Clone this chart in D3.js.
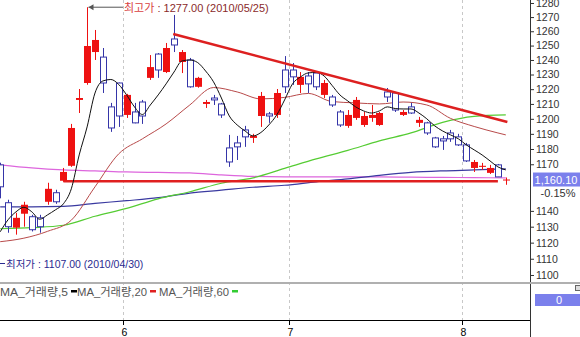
<!DOCTYPE html>
<html><head><meta charset="utf-8">
<script src="https://cdn.jsdelivr.net/npm/d3@7"></script>
<style>
body{margin:0;background:#fff}
svg{display:block;font-family:"Liberation Sans",Arial,"Noto Sans CJK KR",sans-serif}
</style>
</head><body>
<svg id="c" width="580" height="337"></svg>
<script>
// ---- data (USD/KRW daily candles, index -1 .. 63) ----
const firstIdx = -1;
const open  = [1169.6,1145.2,1129.4,1138.2,1136.3,1135.6,1145.8,1151.6,1159.3,1169.0,1212.7,1224.2,1245.5,1242.0,1208.0,1224.2,1202.6,1204.6,1211.3,1227.7,1244.1,1231.7,1254.6,1238.6,1240.0,1221.6,1210.0,1214.0,1210.0,1180.7,1184.0,1192.6,1187.3,1201.9,1203.3,1202.6,1233.1,1233.1,1222.9,1229.0,1231.0,1216.1,1214.7,1204.6,1195.3,1200.6,1195.9,1200.6,1195.9,1218.1,1217.4,1202.6,1208.0,1197.3,1197.3,1187.3,1186.7,1190.6,1188.0,1182.7,1167.6,1168.3,1164.4,1169.6,1159.5];
const high  = [1171.0,1147.1,1138.8,1145.8,1137.5,1137.5,1158.0,1153.5,1167.6,1196.6,1220.1,1277.0,1260.9,1248.3,1210.7,1224.5,1216.8,1210.7,1212.7,1243.4,1244.8,1251.8,1271.5,1246.9,1241.4,1228.4,1212.7,1216.1,1210.7,1189.3,1188.6,1195.3,1190.0,1218.1,1204.6,1220.1,1242.7,1237.9,1231.7,1231.7,1231.7,1226.3,1216.1,1205.9,1205.9,1214.7,1204.6,1209.3,1204.6,1220.8,1218.1,1205.9,1210.7,1201.3,1198.0,1188.0,1188.6,1192.6,1190.0,1184.0,1172.8,1170.9,1169.6,1170.2,1161.4];
const low   = [1148.0,1126.2,1125.0,1130.0,1127.0,1126.2,1143.9,1144.5,1158.6,1168.3,1203.9,1223.0,1240.0,1217.4,1191.3,1194.6,1200.6,1197.0,1196.6,1226.3,1227.7,1231.0,1245.5,1231.0,1221.0,1221.0,1207.3,1209.3,1200.6,1168.3,1172.8,1181.4,1184.0,1194.6,1197.3,1200.6,1217.4,1222.9,1217.4,1217.4,1219.4,1214.0,1208.0,1194.6,1194.0,1199.3,1194.6,1198.0,1195.3,1211.3,1204.6,1201.9,1203.3,1194.6,1189.3,1180.7,1179.4,1184.7,1182.0,1171.5,1165.0,1166.3,1163.7,1161.8,1156.7];
const close = [1155.4,1130.0,1135.6,1143.9,1128.1,1130.0,1154.1,1145.8,1165.0,1193.9,1214.0,1249.7,1253.9,1224.2,1193.9,1201.9,1216.1,1197.3,1201.9,1235.1,1233.1,1248.3,1250.4,1245.5,1221.6,1227.7,1211.3,1212.7,1202.6,1171.5,1181.4,1188.0,1188.6,1215.4,1201.9,1217.4,1221.6,1228.4,1228.4,1223.6,1221.6,1224.2,1209.3,1195.9,1202.6,1212.7,1201.9,1202.6,1203.9,1214.7,1205.9,1204.6,1203.9,1199.3,1190.6,1181.4,1185.3,1186.7,1182.7,1172.2,1171.5,1169.0,1167.6,1161.8,1160.1];

// moving averages
const ma5 = [1126.8,1134.4,1139.4,1142.3,1139.4,1134.7,1137.5,1140.7,1144.5,1154.1,1176.1,1194.6,1217.4,1225.6,1226.6,1223.2,1216.1,1208.0,1202.9,1209.3,1216.1,1223.6,1231.7,1239.3,1240.0,1238.2,1232.4,1225.0,1214.0,1201.9,1195.9,1191.9,1188.6,1190.9,1195.9,1202.6,1212.7,1223.6,1228.3,1231.1,1231.4,1229.0,1222.6,1216.1,1212.0,1208.0,1205.3,1203.9,1205.3,1208.0,1206.9,1206.6,1206.6,1203.9,1200.0,1195.3,1191.9,1189.3,1186.7,1182.7,1179.4,1176.1,1172.2,1168.3,1166.3];
const ma20Idx = [-1,2,5,8,11,14,17,20,23,26,29,32,35,38,41,44,47,50,53,56,59,62,63];
const ma20 = [1120.6,1122.8,1127.1,1134.1,1155.4,1176.8,1186.7,1196.6,1209.3,1221.1,1218.1,1213.4,1214.4,1217.1,1211.6,1210.7,1210.0,1211.3,1209.3,1200.3,1194.9,1190.6,1189.3];
const slowIdx = [-1,3,7,11,15,19,23,27,31,35,39,43,47,51,55,59,63];
const ma60  = [1128.7,1129.4,1130.9,1136.6,1141.6,1147.7,1152.2,1157.7,1161.2,1167.3,1173.5,1179.1,1185.3,1190.6,1197.6,1201.6,1202.6];
const ma120 = [1142.6,1142.6,1142.9,1144.8,1146.5,1148.4,1151.3,1153.2,1155.1,1156.4,1158.6,1160.5,1162.8,1164.7,1165.7,1166.3,1167.0];
const maPink= [1169.6,1167.6,1166.3,1165.7,1165.0,1164.7,1164.4,1163.1,1162.1,1161.8,1161.8,1161.8,1161.8,1161.6,1161.5,1161.3,1161.2];

// drawn lines
const trendIdx = [20.9, 63.2];
const trendVal = [1258.1, 1197.9];
const supportIdx = [7, 62];
const supportVal = 1159.0;

const yTicks = [1280,1270,1260,1250,1240,1230,1220,1210,1200,1190,1180,1170,1140,1130,1120,1110,1100];
const monthLabels = ["6","7","8"];
const monthStartIdx = [15,36,58];
const lastPrice = "1,160.10";
const lastChange = "-0.15%";
const highText = ["최고가", " : 1277.00 (2010/05/25)"];
const highIdx = 10, highVal = 1277.0;
const lowText = "최저가 : 1107.00 (2010/04/30)";
const legendItems = ["MA_거래량,5","MA_거래량,20","MA_거래량,60"];
const legendColors = ["#000000","#e02020","#33cc33"];

// ---- drawing ----
const svg = d3.select("#c");
const W = 580, H = 337, plotR = 530, priceB = 283;
const x = d3.scaleLinear().domain([0,63]).range([8.1,505.8]);
const y = d3.scaleLog().domain([1095.1,1282.14]).range([priceB,0]);

svg.append("defs").append("clipPath").attr("id","clip")
  .append("rect").attr("x",0).attr("y",0).attr("width",plotR).attr("height",priceB);

// month gridlines
const gx = d => Math.round(x(d-0.5))+0.5;
svg.append("g").selectAll("line").data(monthStartIdx).join("line")
  .attr("x1",gx).attr("x2",gx).attr("y1",0).attr("y2",320)
  .attr("stroke","#c8c8c8").attr("stroke-dasharray","3,3");

const P = svg.append("g").attr("clip-path","url(#clip)");
const idxOf = i => i + firstIdx;

// slow lines
const lineFrom = (idxArr, vals) => d3.line().curve(d3.curveMonotoneX)
  .x((d,i)=>x(idxArr[i])).y(d=>y(d))(vals);
P.append("path").attr("d",lineFrom(slowIdx,maPink)).attr("fill","none").attr("stroke","#dd66dd").attr("stroke-width",1.2);
P.append("path").attr("d",lineFrom(slowIdx,ma120)).attr("fill","none").attr("stroke","#3a3aa0").attr("stroke-width",1.2);
P.append("path").attr("d",lineFrom(slowIdx,ma60)).attr("fill","none").attr("stroke","#55cc33").attr("stroke-width",1.2);
P.append("path").attr("d",lineFrom(ma20Idx,ma20)).attr("fill","none").attr("stroke","#b84a4a").attr("stroke-width",1);

// support line
P.append("line").attr("x1",x(supportIdx[0])).attr("x2",x(supportIdx[1]))
  .attr("y1",y(supportVal)).attr("y2",y(supportVal))
  .attr("stroke","#e02020").attr("stroke-width",2.5);

// candles
const n = open.length;
const cw = 6;
const cg = P.append("g");
for (let k=0;k<n;k++){
  const i = idxOf(k);
  const up = close[k] >= open[k];
  const col = up ? "#ee1111" : "#3535a8";
  const cx = Math.round(x(i))+0.5;
  cg.append("line").attr("x1",cx).attr("x2",cx).attr("y1",y(high[k])).attr("y2",y(low[k]))
    .attr("stroke",col).attr("stroke-width",1);
  const top = y(Math.max(open[k],close[k])), bot = y(Math.min(open[k],close[k]));
  const h = Math.max(1, bot-top);
  if (up) {
    cg.append("rect").attr("x",cx-3.5).attr("y",top).attr("width",cw+1).attr("height",h).attr("fill",col);
  } else {
    cg.append("rect").attr("x",cx-3).attr("y",top).attr("width",cw).attr("height",h)
      .attr("fill","#fff").attr("stroke",col).attr("stroke-width",1);
  }
}

// MA5
P.append("path").attr("d",d3.line().curve(d3.curveMonotoneX).x((d,k)=>x(idxOf(k))).y(d=>y(d))(ma5))
  .attr("fill","none").attr("stroke","#111").attr("stroke-width",1);

// trendline
P.append("line").attr("x1",x(trendIdx[0])).attr("y1",y(trendVal[0]))
  .attr("x2",x(trendIdx[1])).attr("y2",y(trendVal[1]))
  .attr("stroke","#dd2020").attr("stroke-width",2.6);

// high annotation
const hx = Math.round(x(highIdx))+0.5, hy = y(highVal);
svg.append("line").attr("x1",hx+1).attr("x2",123).attr("y1",hy).attr("y2",hy).attr("stroke","#555");
svg.append("path").attr("d",`M${hx+1},${hy} l5,-3 l0,6 z`).attr("fill","#555");
const ht = svg.append("text").attr("x",124).attr("y",hy+5).attr("font-size",11);
ht.append("tspan").text(highText[0]).attr("fill","#d84040").attr("font-family","Noto Sans CJK KR");
ht.append("tspan").text(highText[1]).attr("fill","#8a2a2a");

// low annotation
svg.append("line").attr("x1",0).attr("x2",5).attr("y1",263.5).attr("y2",263.5).attr("stroke","#2a2a90");
svg.append("text").attr("x",6).attr("y",267.5).attr("font-size",10.5).attr("fill","#2a2a90").text(lowText);

// y axis
const ya = svg.append("g").attr("transform",`translate(${plotR},0)`)
  .call(d3.axisRight(y).tickValues(yTicks).tickSize(4).tickPadding(2).tickFormat(d3.format("d")));
ya.select(".domain").remove();
ya.selectAll("text").attr("font-size",10.5).attr("fill","#333").attr("font-family","Liberation Sans, Arial");
ya.selectAll("line").attr("stroke","#333");
svg.append("line").attr("x1",plotR+0.5).attr("x2",plotR+0.5).attr("y1",0).attr("y2",H).attr("stroke","#333");

// last price box
const ly = y(1160.1);
svg.append("rect").attr("x",533).attr("y",ly-7).attr("width",47).attr("height",14).attr("fill","#7b80ec");
svg.append("text").attr("x",556).attr("y",ly+4).attr("text-anchor","middle").attr("font-size",11).attr("fill","#fff").text(lastPrice);
svg.append("text").attr("x",558).attr("y",ly+17).attr("text-anchor","middle").attr("font-size",11).attr("fill","#333").text(lastChange);

// panel separator
svg.append("line").attr("x1",0).attr("x2",W).attr("y1",283).attr("y2",283).attr("stroke","#b0b0b0").attr("stroke-width",2);

// legend
const lg = svg.append("g").attr("font-size",11).attr("fill","#555").attr("font-family","Liberation Sans, Noto Sans CJK KR");
const legX = [0, 77, 159], legW = [68, 70, 70];
legendItems.forEach((t,i)=>{
  lg.append("text").attr("x",legX[i]).attr("y",295.5).attr("textLength",legW[i]).attr("lengthAdjust","spacingAndGlyphs").text(t);
  lg.append("rect").attr("x",legX[i]+legW[i]+3).attr("y",290).attr("width",6).attr("height",2.5).attr("fill",legendColors[i]);
});

// volume value box
svg.append("rect").attr("x",535).attr("y",294).attr("width",45).attr("height",12).attr("fill","#7b80ec");
svg.append("text").attr("x",559).attr("y",304).attr("text-anchor","middle").attr("font-size",11).attr("fill","#fff").text("0");
svg.append("rect").attr("x",575.5).attr("y",285.5).attr("width",5).attr("height",5).attr("fill","#ddd").attr("stroke","#666");

// x axis
svg.append("line").attr("x1",0).attr("x2",plotR).attr("y1",320.5).attr("y2",320.5).attr("stroke","#000");
svg.append("g").selectAll("line").data(monthStartIdx).join("line")
  .attr("x1",gx).attr("x2",gx).attr("y1",320).attr("y2",325).attr("stroke","#000");
svg.append("g").selectAll("text").data(monthStartIdx).join("text")
  .attr("x",d=>gx(d)+1).attr("y",336).attr("text-anchor","middle").attr("font-size",10.5).attr("fill","#000")
  .text((d,i)=>monthLabels[i]);
</script>
</body></html>
